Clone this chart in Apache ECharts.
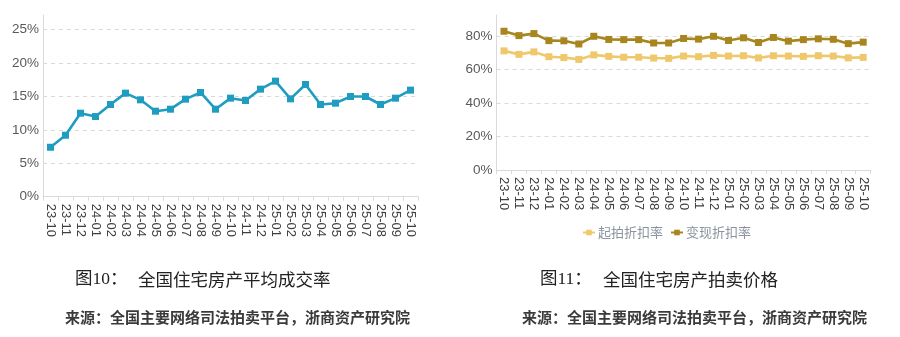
<!DOCTYPE html>
<html>
<head>
<meta charset="utf-8">
<script src="https://cdn.jsdelivr.net/npm/echarts@6/dist/echarts.min.js"></script>
<style>
html,body{margin:0;padding:0;background:#fff;}
#c{width:900px;height:337px;}
</style>
</head>
<body>
<div id="c"></div>
<script>
const categories = ['23-10','23-11','23-12','24-01','24-02','24-03','24-04','24-05','24-06','24-07','24-08','24-09','24-10','24-11','24-12','25-01','25-02','25-03','25-04','25-05','25-06','25-07','25-08','25-09','25-10'];
const dealRate = [7.4,9.2,12.5,12.0,13.8,15.5,14.5,12.8,13.1,14.6,15.6,13.1,14.75,14.4,16.1,17.3,14.65,16.8,13.8,14.0,15.0,15.0,13.8,14.75,15.95];
const startDiscount = [71.1,69.0,70.5,67.6,67.1,66.0,68.7,67.8,67.3,67.3,66.8,66.6,68.0,67.6,68.4,68.0,68.2,66.9,68.2,68.0,67.8,68.2,68.0,66.9,67.2];
const realizeDiscount = [82.8,80.2,81.4,77.2,77.1,75.2,79.8,77.9,77.8,77.8,75.8,75.8,78.5,78.1,79.8,77.3,78.9,76.1,79.1,76.9,77.8,78.3,78.0,75.4,76.3];
const leftYTicks = {min:0, max:27.2, interval:5};
const rightYTicks = {min:0, max:92.5, interval:20};
const legendNames = ['起拍折扣率','变现折扣率'];
const captions = ['图10：','全国住宅房产平均成交率','图11：','全国住宅房产拍卖价格'];
const sourceText = '来源：全国主要网络司法拍卖平台，浙商资产研究院';

const axisFont = '"Liberation Sans", Arial, sans-serif';
const cjkSerifMix = '"Liberation Serif", "Noto Sans CJK SC", serif';
const gridLine = {show:true, showMaxLine:false, lineStyle:{color:'#d9d9d9', type:[4,4], width:1}};
const axisLineStyle = {show:true, lineStyle:{color:'#d9d9d9', width:1}};

function xAxisCfg(gridIndex){
  return {
    type:'category', gridIndex, data:categories, boundaryGap:true,
    axisLine:axisLineStyle,
    axisTick:{show:true, length:4, lineStyle:{color:'#d9d9d9'}},
    axisLabel:{rotate:-90, interval:0, margin:7, color:'#404040', fontSize:13, fontFamily:axisFont},
    splitLine:{show:false}
  };
}
function yAxisCfg(gridIndex, t){
  return {
    type:'value', gridIndex, min:t.min, max:t.max, interval:t.interval,
    axisLine:axisLineStyle, axisTick:{show:false},
    axisLabel:{formatter:'{value}%', color:'#595959', fontSize:13.5, fontFamily:axisFont, margin:4, showMaxLabel:false},
    splitLine:gridLine
  };
}

const chart = echarts.init(document.getElementById('c'), null, {renderer:'canvas'});
chart.setOption({
  animation:false,
  backgroundColor:'#ffffff',
  grid:[
    {left:43, right:482, top:15, bottom:140.3},
    {left:496.5, right:29.3, top:15, bottom:167}
  ],
  xAxis:[xAxisCfg(0), xAxisCfg(1)],
  yAxis:[yAxisCfg(0, leftYTicks), yAxisCfg(1, rightYTicks)],
  legend:{
    show:true, data:legendNames, left:582, top:226, padding:0,
    itemWidth:12, itemHeight:7, itemGap:7,
    textStyle:{color:'#8a939e', fontSize:13, fontFamily:'"Noto Sans CJK SC", sans-serif', padding:[0,0,0,-2]}
  },
  series:[
    {type:'line', name:'平均成交率', xAxisIndex:0, yAxisIndex:0, data:dealRate,
      symbol:'rect', symbolSize:7, lineStyle:{color:'#1f9dc0', width:2.6},
      itemStyle:{color:'#1f9dc0'}},
    {type:'line', name:legendNames[0], xAxisIndex:1, yAxisIndex:1, data:startDiscount,
      symbol:'rect', symbolSize:7, lineStyle:{color:'#efc86c', width:2.6},
      itemStyle:{color:'#efc86c'}},
    {type:'line', name:legendNames[1], xAxisIndex:1, yAxisIndex:1, data:realizeDiscount,
      symbol:'rect', symbolSize:7, lineStyle:{color:'#a8861f', width:2.6},
      itemStyle:{color:'#a8861f'}}
  ],
  graphic:[
    {type:'text', left:75, top:271, style:{text:captions[0], font:'17.5px '+cjkSerifMix, fill:'#222'}},
    {type:'text', left:138, top:271, style:{text:captions[1], font:'17.5px "Noto Sans CJK SC", sans-serif', fill:'#222'}},
    {type:'text', left:540, top:271, style:{text:captions[2], font:'17.5px '+cjkSerifMix, fill:'#222'}},
    {type:'text', left:603, top:271, style:{text:captions[3], font:'17.5px "Noto Sans CJK SC", sans-serif', fill:'#222'}},
    {type:'text', left:65, top:310, style:{text:sourceText, font:'bold 15px "Noto Sans CJK SC", sans-serif', fill:'#3a3a3a'}},
    {type:'text', left:522, top:310, style:{text:sourceText, font:'bold 15px "Noto Sans CJK SC", sans-serif', fill:'#3a3a3a'}}
  ]
});
</script>
</body>
</html>
